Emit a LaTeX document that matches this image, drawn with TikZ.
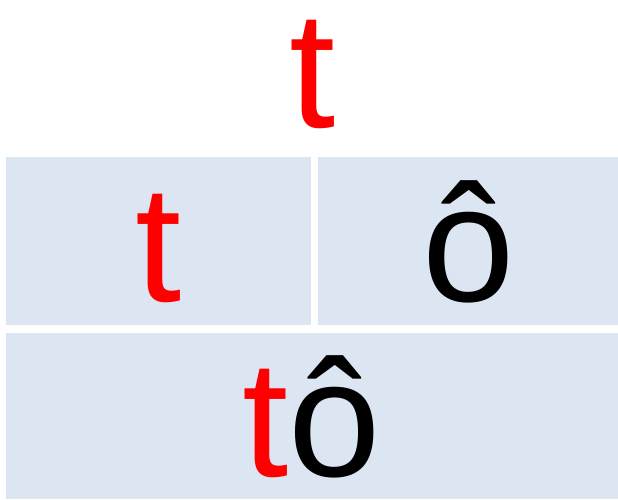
\documentclass[tikz,border=0pt]{standalone}
\usepackage{fontspec}
\setmainfont{Liberation Sans}
\usepackage{tikz}
\usetikzlibrary{positioning}
\definecolor{cellfill}{HTML}{DCE6F2}

\begin{document}
\begin{tikzpicture}[
  x=1pt,y=1pt,
  glyph/.style={inner sep=0pt,font=\fontsize{166}{166}\selectfont},
  cell/.style={glyph,fill=cellfill,minimum height=168pt,
    text height=120pt,text depth=0pt}
]
\useasboundingbox (0,0) rectangle (618,499);
\node[glyph,text=red,anchor=base] (top) at (313,371) {t};
\node[cell,minimum width=305pt] (tcell) at (158.5,258) {\textcolor{red}{t}};
\node[cell,minimum width=300pt,right=7pt of tcell] (ocell) {ô};
\node[cell,minimum width=612pt,minimum height=166pt,
  below=8pt of tcell.south west,anchor=north west] (word)
  {\textcolor{red}{t}ô};
\end{tikzpicture}
\end{document}
